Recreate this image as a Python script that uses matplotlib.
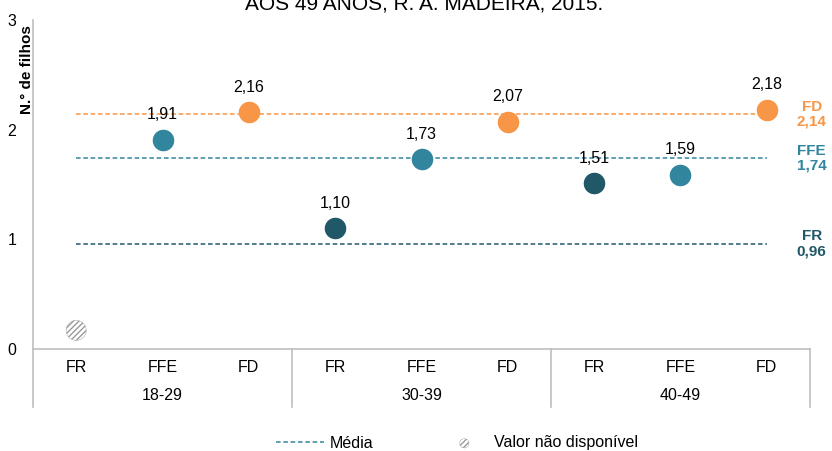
import numpy as np
import matplotlib
matplotlib.use("Agg")
import matplotlib.pyplot as plt
from matplotlib.lines import Line2D

# data
groups = ['18-29', '30-39', '40-49']
types = ['FR', 'FFE', 'FD']
fr_vals = [np.nan, 1.10, 1.51]
ffe_vals = [1.91, 1.73, 1.59]
fd_vals = [2.16, 2.07, 2.18]
means = {'FR': 0.96, 'FFE': 1.74, 'FD': 2.14}
missing_y = 0.17  # placeholder height of the "not available" marker
yticks = [0, 1, 2, 3]

colors = {'FR': '#215868', 'FFE': '#31859C', 'FD': '#F79646'}
series = {'FR': fr_vals, 'FFE': ffe_vals, 'FD': fd_vals}

plt.rcParams['font.family'] = ['Liberation Sans', 'DejaVu Sans']
fs = 11.5

W, H = 832, 451
fig = plt.figure(figsize=(W / 100, H / 100), dpi=100)
ax = fig.add_axes([33 / W, (H - 349) / H, (810 - 33) / W, (349 - 20) / H])
ax.set_xlim(-0.5, 8.5)
ax.set_ylim(0, 3)

# mean lines
for t in ['FD', 'FFE', 'FR']:
    ax.plot([0, 8], [means[t], means[t]], color=colors[t], lw=1.1,
            linestyle=(0, (3, 1.8)), zorder=2)
    ax.text(8.52, means[t], t + '\n' + f"{means[t]:.2f}".replace('.', ','),
            color=colors[t], fontsize=11, fontweight='bold', ha='center',
            va='center', linespacing=1.1, clip_on=False)

# points
for j, t in enumerate(types):
    for i, v in enumerate(series[t]):
        x = i * 3 + j
        if np.isnan(v):
            ax.scatter([x], [missing_y], s=210, facecolor='white',
                       edgecolor='#9a9a9a', hatch='//////', linewidths=0.3,
                       zorder=3)
            continue
        ax.plot([x], [v], 'o', color=colors[t], markersize=14.5, zorder=3)
        ax.text(x, v + 0.16, f"{v:.2f}".replace('.', ','), ha='center',
                va='bottom', fontsize=fs)

# axes styling
for s in ['top', 'right']:
    ax.spines[s].set_visible(False)
for s in ['left', 'bottom']:
    ax.spines[s].set_color('#BFBFBF')
    ax.spines[s].set_linewidth(1.2)
ax.set_yticks(yticks)
ax.set_yticklabels([str(v) for v in yticks], fontsize=fs)
ax.tick_params(axis='y', length=0, pad=12)
ax.set_xticks(range(9))
ax.set_xticklabels(types * 3, fontsize=fs)
ax.tick_params(axis='x', length=0, pad=8)

# group labels and dividers below the axis
drop = -58 / 329
for i, g in enumerate(groups):
    ax.text(i * 3 + 1, -47 / 329, g, transform=ax.get_xaxis_transform(),
            ha='center', va='center', fontsize=fs)
for xd in [-0.5, 2.5, 5.5, 8.5]:
    ax.plot([xd, xd], [0, drop], transform=ax.get_xaxis_transform(),
            color='#BFBFBF', lw=1.2, clip_on=False)

fig.text(27 / W, 1 - 70 / H, 'N.° de filhos', rotation=90, ha='center',
         va='center', fontsize=11, fontweight='bold')

fig.text(424 / W, 1 - 10 / H, 'AOS 49 ANOS, R. A. MADEIRA, 2015.',
         ha='center', va='baseline', fontsize=15)

handles = [
    Line2D([], [], color=colors['FFE'], lw=1.1, linestyle=(0, (3, 1.8))),
    ax.scatter([], [], s=45, facecolor='white', edgecolor='#9a9a9a',
               hatch='//////', linewidths=0.3),
]
fig.legend(handles, ['Média', 'Valor não disponível'], loc='center',
           bbox_to_anchor=(457 / W, 8 / H), ncol=2, frameon=False,
           fontsize=fs, handlelength=3.0, columnspacing=4.2, handletextpad=0.37)

fig.savefig('out.png', dpi=100)
